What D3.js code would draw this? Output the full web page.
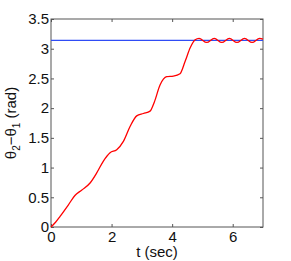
<!DOCTYPE html>
<html>
<head>
<meta charset="utf-8">
<script src="https://cdn.jsdelivr.net/npm/d3@7"></script>
<style>
  body { margin: 0; background: #fff; }
  text { font-family: "Liberation Sans", Arial, sans-serif; fill: #111; }
</style>
</head>
<body>
<div id="chart"></div>
<script>
// time (sec) and theta2 - theta1 (rad)
var tVals = [0, 0.15, 0.30, 0.57, 0.79, 1.01, 1.29, 1.51, 1.73, 1.95, 2.17, 2.39, 2.61, 2.83, 3.05, 3.27,
             3.41, 3.60, 3.82, 4.04, 4.26, 4.43, 4.60, 4.76, 4.89, 5.14, 5.39, 5.64, 5.89, 6.14, 6.39, 6.64, 6.89, 7.0];
var dTheta = [0, 0.08, 0.18, 0.37, 0.53, 0.62, 0.74, 0.91, 1.11, 1.25, 1.30, 1.44, 1.69, 1.87, 1.91, 1.95,
              2.10, 2.39, 2.53, 2.54, 2.58, 2.79, 3.02, 3.15, 3.175, 3.105, 3.175, 3.105, 3.175, 3.105, 3.175, 3.105, 3.175, 3.16];
var target = Math.PI;
var xTicks = [0, 2, 4, 6];
var yTicks = [0, 0.5, 1, 1.5, 2, 2.5, 3, 3.5];

var w = 291, h = 261;
var margin = {top: 19, right: 28, bottom: 34, left: 51};
var pw = w - margin.left - margin.right;
var ph = h - margin.top - margin.bottom;

var data = tVals.map(function(t, i) { return {t: t, v: dTheta[i]}; });

var svg = d3.select("#chart").append("svg")
    .attr("width", w)
    .attr("height", h);

var g = svg.append("g")
    .attr("transform", "translate(" + margin.left + "," + margin.top + ")");

var xScale = d3.scaleLinear().domain([0, 7]).range([0, pw]);
var yScale = d3.scaleLinear().domain([0, 3.5]).range([ph, 0]);

var axisColor = "#555";

// frame
g.append("rect")
    .attr("width", pw).attr("height", ph)
    .attr("fill", "none").attr("stroke", axisColor).attr("stroke-width", 1);

// ticks inside on all sides
var xAxis = d3.axisBottom(xScale).tickValues(xTicks).tickSize(-3).tickPadding(4).tickFormat(d3.format("d"));
var yAxis = d3.axisLeft(yScale).tickValues(yTicks).tickSize(-3).tickPadding(2).tickFormat(function(d) { return d; });

var gx = g.append("g").attr("transform", "translate(0," + ph + ")").call(xAxis);
var gy = g.append("g").call(yAxis);
var gxt = g.append("g").call(d3.axisTop(xScale).tickValues(xTicks).tickSize(-3).tickFormat(""));
var gyr = g.append("g").attr("transform", "translate(" + pw + ",0)")
    .call(d3.axisRight(yScale).tickValues(yTicks).tickSize(-3).tickFormat(""));

[gx, gy, gxt, gyr].forEach(function(a) {
    a.select(".domain").remove();
    a.selectAll(".tick line").attr("stroke", axisColor);
    a.selectAll(".tick text").attr("font-size", "15px").attr("fill", "#111")
        .attr("font-family", "Liberation Sans, Arial, sans-serif");
});

// target line
g.append("line")
    .attr("x1", xScale(0)).attr("x2", xScale(7))
    .attr("y1", yScale(target)).attr("y2", yScale(target))
    .attr("stroke", "#2f4cf5").attr("stroke-width", 1.3);

var line = d3.line()
    .x(function(d) { return xScale(d.t); })
    .y(function(d) { return yScale(d.v); })
    .curve(d3.curveMonotoneX);

g.append("path")
    .datum(data)
    .attr("d", line)
    .attr("fill", "none")
    .attr("stroke", "#ff0000")
    .attr("stroke-width", 1.3);

// x label
svg.append("text")
    .attr("x", margin.left + pw / 2)
    .attr("y", 257)
    .attr("text-anchor", "middle")
    .attr("font-size", "15px")
    .text("t (sec)");

// y label
var yl = svg.append("text")
    .attr("transform", "translate(16," + (margin.top + ph / 2) + ") rotate(-90)")
    .attr("text-anchor", "middle")
    .attr("font-size", "15px");
yl.append("tspan").text("θ");
yl.append("tspan").attr("font-size", "10px").attr("dy", 4).text("2");
yl.append("tspan").attr("dy", -4).text("−θ");
yl.append("tspan").attr("font-size", "10px").attr("dy", 4).text("1");
yl.append("tspan").attr("dy", -4).text(" (rad)");
</script>
</body>
</html>
